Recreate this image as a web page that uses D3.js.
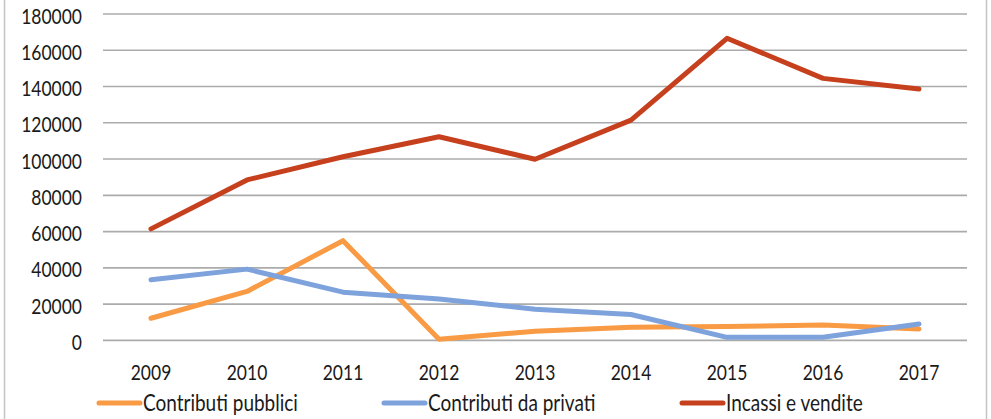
<!DOCTYPE html>
<html><head><meta charset="utf-8">
<script src="https://cdn.jsdelivr.net/npm/d3@7"></script>
<style>
html,body{margin:0;padding:0;background:#fff;}
svg{display:block;}
text{font-family:Lato,"Open Sans",sans-serif;fill:#1a1a1a;}
</style></head>
<body>
<svg id="chart" width="991" height="419"></svg>
<script>
const years = ["2009","2010","2011","2012","2013","2014","2015","2016","2017"];
const contributiPubblici = [12200, 27000, 55000, 600, 5100, 7200, 7600, 8500, 6300];
const contributiPrivati = [33400, 39300, 26600, 22800, 17200, 14300, 1700, 1700, 9000];
const incassiVendite = [61500, 88500, 101300, 112300, 99900, 121500, 166600, 144500, 138600];
const yTicks = [0, 20000, 40000, 60000, 80000, 100000, 120000, 140000, 160000, 180000];
const seriesNames = ["Contributi pubblici", "Contributi da privati", "Incassi e vendite"];
const seriesColors = ["#F99A44", "#7EA2DC", "#C6401E"];

const series = [contributiPubblici, contributiPrivati, incassiVendite];
const svg = d3.select("#chart");
const SY = 1.2;

// frame side borders
svg.append("line").attr("x1",4.5).attr("x2",4.5).attr("y1",0).attr("y2",419).attr("stroke","#c4c4c4").attr("stroke-width",1.5);
svg.append("line").attr("x1",986.5).attr("x2",986.5).attr("y1",0).attr("y2",419).attr("stroke","#c4c4c4").attr("stroke-width",1.5);

const x = d3.scaleBand().domain(years).range([103, 967]);
const y = d3.scaleLinear().domain([0, 180000]).range([340.4, 14]);

// gridlines
svg.append("g").selectAll("line").data(yTicks).join("line")
  .attr("x1", 103).attr("x2", 967)
  .attr("y1", d => y(d)).attr("y2", d => y(d))
  .attr("stroke", "#ababab").attr("stroke-width", 1.6);

// y tick labels
svg.append("g").selectAll("text").data(yTicks).join("text")
  .attr("text-anchor","end")
  .attr("transform", d => `translate(82,${y(d)+9.5}) scale(1,${SY})`)
  .style("font-size","17.5px")
  .text(d => d);

// x tick labels
svg.append("g").selectAll("text").data(years).join("text")
  .attr("text-anchor","middle")
  .attr("transform", d => `translate(${x(d)+x.bandwidth()/2},380) scale(1,${SY})`)
  .style("font-size","17.5px")
  .text(d => d);

// lines
const line = d3.line().x((d,i) => x(years[i]) + x.bandwidth()/2).y(d => y(d));
series.forEach((s, k) => {
  svg.append("path").datum(s).attr("d", line)
    .attr("fill","none").attr("stroke", seriesColors[k])
    .attr("stroke-width", 5).attr("stroke-linejoin","round").attr("stroke-linecap","round");
});

// legend
const legendX = [97, 382, 680];
const lg = svg.append("g").selectAll("g").data(seriesNames).join("g")
  .attr("transform", (d,i) => `translate(${legendX[i]},403)`);
lg.append("line").attr("x1",2).attr("x2",43).attr("y1",0).attr("y2",0)
  .attr("stroke",(d,i)=>seriesColors[i]).attr("stroke-width",5).attr("stroke-linecap","round");
lg.append("text").attr("transform",`translate(46,7.5) scale(1,${SY})`)
  .style("font-size","19px").text(d => d);
</script>
</body></html>
